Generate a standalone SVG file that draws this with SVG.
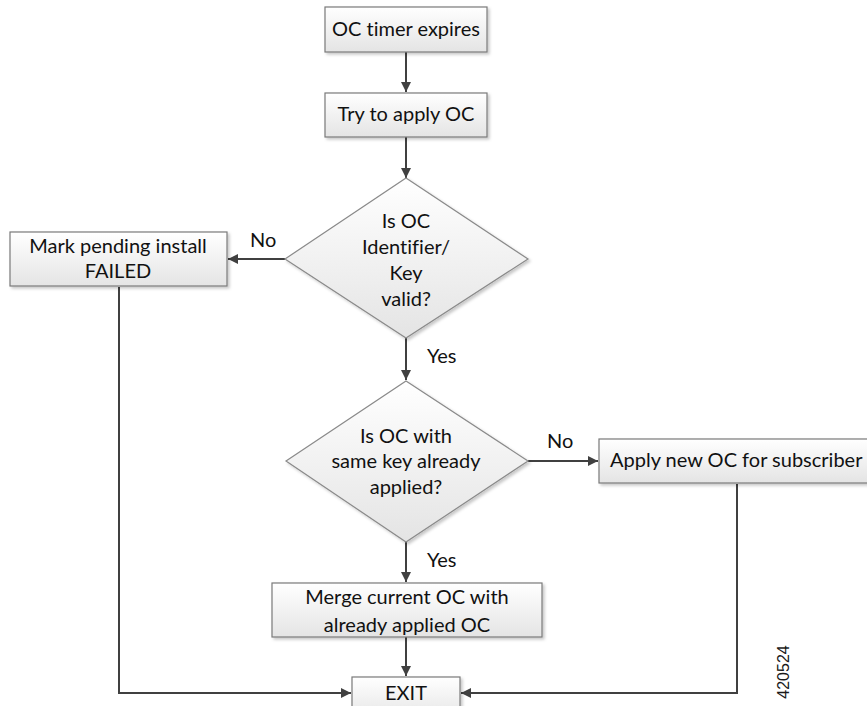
<svg xmlns="http://www.w3.org/2000/svg" width="867" height="706" viewBox="0 0 867 706">
<style>
.box{fill:url(#g);stroke:#7a7a7a;stroke-width:1.2;filter:url(#sh)}
.dia{fill:url(#g);stroke:#8a8a8a;stroke-width:1.2;filter:url(#sh)}
.t{font-family:Lato,"Open Sans","Liberation Sans",sans-serif;font-size:20px;fill:#111111;text-anchor:middle;font-variant-ligatures:none}
.lbl{font-family:Lato,"Open Sans","Liberation Sans",sans-serif;font-size:20px;fill:#111111;font-variant-ligatures:none}
.c{fill:none;stroke:#404040;stroke-width:2}
</style>
<defs>
<linearGradient id="g" x1="0" y1="0" x2="0" y2="1">
<stop offset="0" stop-color="#ffffff"/>
<stop offset="1" stop-color="#e4e4e4"/>
</linearGradient>
<filter id="sh" x="-10%" y="-10%" width="130%" height="130%">
<feDropShadow dx="2" dy="2" stdDeviation="1.5" flood-color="#000" flood-opacity="0.22"/>
</filter>
<marker id="ah" viewBox="0 0 10 10" refX="10" refY="5" markerWidth="10" markerHeight="10" markerUnits="userSpaceOnUse" orient="auto">
<path d="M0,0 L10,5 L0,10 z" fill="#404040"/>
</marker>
</defs>
<rect width="867" height="706" fill="#ffffff"/>

<g id="connectors">
<line class="c" x1="406" y1="52" x2="406" y2="92" marker-end="url(#ah)"/>
<line class="c" x1="406" y1="137" x2="406" y2="178" marker-end="url(#ah)"/>
<line class="c" x1="285" y1="259" x2="228" y2="259" marker-end="url(#ah)"/>
<line class="c" x1="406" y1="338" x2="406" y2="380" marker-end="url(#ah)"/>
<line class="c" x1="528" y1="461" x2="598" y2="461" marker-end="url(#ah)"/>
<line class="c" x1="406" y1="542" x2="406" y2="582" marker-end="url(#ah)"/>
<line class="c" x1="406" y1="637" x2="406" y2="676" marker-end="url(#ah)"/>
<polyline class="c" points="119,287 119,693 351,693" marker-end="url(#ah)"/>
<polyline class="c" points="737,484 737,693 461,693" marker-end="url(#ah)"/>
<text class="lbl" x="250" y="247">No</text>
<text class="lbl" x="427" y="363">Yes</text>
<text class="lbl" x="547" y="448">No</text>
<text class="lbl" x="427" y="567">Yes</text>
</g>

<g id="n-timer">
<rect class="box" x="325" y="7" width="162" height="45"/>
<text class="t" x="406" y="36">OC timer expires</text>
</g>
<g id="n-try">
<rect class="box" x="325" y="93" width="162" height="44"/>
<text class="t" x="406" y="121">Try to apply OC</text>
</g>
<g id="n-valid">
<polygon class="dia" points="406,178 528,259 406,338 285,259"/>
<text class="t" x="406" y="228">Is OC</text>
<text class="t" x="406" y="254">Identifier/</text>
<text class="t" x="406" y="280">Key</text>
<text class="t" x="406" y="306">valid?</text>
</g>
<g id="n-failed">
<rect class="box" x="10" y="232" width="217" height="54"/>
<text class="t" x="118" y="253">Mark pending install</text>
<text class="t" x="118" y="278">FAILED</text>
</g>
<g id="n-same">
<polygon class="dia" points="406,381 528,461 406,542 286,461"/>
<text class="t" x="406" y="443">Is OC with</text>
<text class="t" x="406" y="468">same key already</text>
<text class="t" x="406" y="494">applied?</text>
</g>
<g id="n-apply">
<rect class="box" x="599" y="439" width="280" height="44"/>
<text class="lbl" x="610" y="467">Apply new OC for subscriber</text>
</g>
<g id="n-merge">
<rect class="box" x="272" y="583" width="270" height="54"/>
<text class="t" x="407" y="604">Merge current OC with</text>
<text class="t" x="407" y="632">already applied OC</text>
</g>
<g id="n-exit">
<rect class="box" x="352" y="677" width="108" height="44"/>
<text class="t" x="406" y="700">EXIT</text>
</g>
<text x="0" y="0" transform="translate(789,672) rotate(-90)" font-family="'Liberation Sans',Arial,sans-serif" font-size="16" fill="#1a1a1a" text-anchor="middle">420524</text>
</svg>
